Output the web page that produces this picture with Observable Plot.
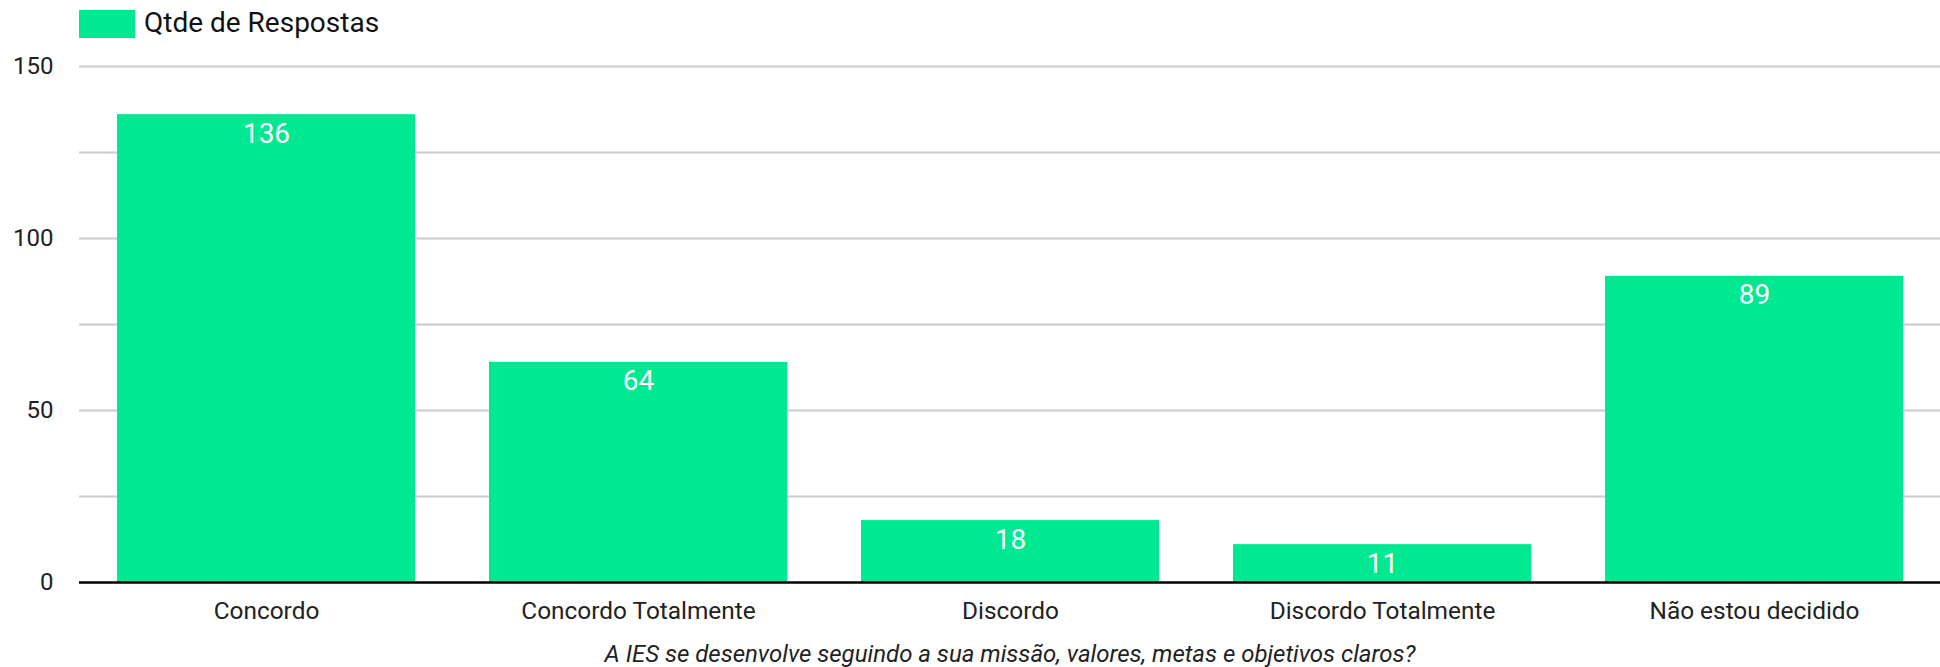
<!DOCTYPE html>
<html>
<head>
<meta charset="utf-8">
<script src="https://cdn.jsdelivr.net/npm/d3@7"></script>
<script src="https://cdn.jsdelivr.net/npm/@observablehq/plot@0.6"></script>
<style>
  html, body { margin: 0; padding: 0; background: #fff; }
  body { width: 1940px; height: 667px; overflow: hidden; font-family: Roboto, sans-serif; }
  #legend { height: 48px; position: relative; }
  #legend .sw { position: absolute; left: 79px; top: 10px; width: 56px; height: 28px; background: #00e892; }
  #legend .lb { position: absolute; left: 144px; top: 7px; font-size: 28px; line-height: 32px; color: #111; }
</style>
</head>
<body>
<div id="legend"><div class="sw"></div><div class="lb">Qtde de Respostas</div></div>
<div id="chart"></div>
<script>
const categories = ["Concordo", "Concordo Totalmente", "Discordo", "Discordo Totalmente", "Não estou decidido"];
const values = [136, 64, 18, 11, 89];
const yTicks = [0, 50, 100, 150];
const gridTicks = [25, 50, 75, 100, 125, 150];
const seriesName = "Qtde de Respostas";
const xTitle = "A IES se desenvolve seguindo a sua missão, valores, metas e objetivos claros?";

const data = categories.map((c, i) => ({category: c, value: values[i]}));
const green = "#00e892";

const chart = Plot.plot({
  width: 1940,
  height: 619,
  marginTop: 18,
  marginBottom: 85,
  marginLeft: 79,
  marginRight: 0,
  style: {fontFamily: "Roboto, sans-serif", fontSize: "24px", color: "#222", background: "#fff"},
  x: {domain: categories, paddingInner: 0.2, paddingOuter: 0.1, label: null},
  y: {domain: [0, 150], label: null},
  marks: [
    Plot.ruleY(gridTicks, {stroke: "#cccccc", strokeWidth: 2}),
    Plot.barY(data, {x: "category", y: "value", fill: green}),
    Plot.ruleY([0], {stroke: "#000", strokeWidth: 2.5}),
    Plot.text(data, {x: "category", y: "value", text: d => String(d.value), fill: "#fff", fontSize: 28, dy: 19, lineAnchor: "middle"}),
    Plot.axisY({ticks: yTicks, tickSize: 0, tickPadding: 26, fontSize: 24, label: null}),
    Plot.axisX({tickSize: 0, tickPadding: 19, fontSize: 24.4, label: null}),
    Plot.text([xTitle], {frameAnchor: "bottom", dy: 72, lineAnchor: "middle", fontSize: 24, fontStyle: "italic", fill: "#222"})
  ]
});
document.getElementById("chart").appendChild(chart);
</script>
</body>
</html>
